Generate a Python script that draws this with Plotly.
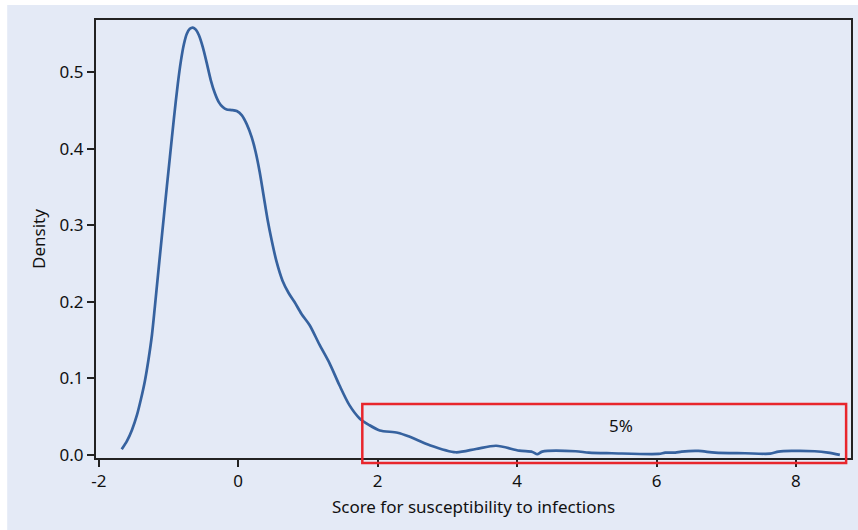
import plotly.graph_objects as go

# Density curve
score = [-1.671, -1.595, -1.524, -1.452, -1.395, -1.338, -1.288, -1.237, -1.195, -1.152,
         -1.109, -1.066, -1.023, -0.980, -0.923, -0.866, -0.823, -0.780, -0.737, -0.694,
         -0.651, -0.608, -0.565, -0.508, -0.451, -0.394, -0.336, -0.279, -0.222, -0.165,
         -0.093, -0.021, 0.050, 0.122, 0.193, 0.250, 0.308, 0.365, 0.422, 0.479,
         0.551, 0.637, 0.723, 0.808, 0.908, 1.023, 1.166, 1.309, 1.452, 1.595,
         1.738, 1.88, 2.03, 2.286, 2.453, 2.74, 3.12, 3.41, 3.70, 4.03,
         4.22, 4.29, 4.36, 4.84, 5.03, 5.36, 6.03, 6.126, 6.27, 6.36,
         6.60, 6.84, 7.27, 7.63, 7.75, 7.94, 8.27, 8.46, 8.63]
density = [0.0074, 0.0183, 0.0326, 0.0522, 0.0730, 0.0970, 0.1240, 0.1570, 0.1940, 0.2340,
           0.2730, 0.3120, 0.3510, 0.3890, 0.4390, 0.4850, 0.5140, 0.5360, 0.5500, 0.5565,
           0.5581, 0.5555, 0.5483, 0.5326, 0.5117, 0.4896, 0.4726, 0.4608, 0.4543, 0.4510,
           0.4504, 0.4491, 0.4439, 0.4321, 0.4151, 0.3956, 0.3695, 0.3381, 0.3068, 0.2807,
           0.2520, 0.2272, 0.2115, 0.1997, 0.1841, 0.1697, 0.144, 0.120, 0.091, 0.065,
           0.048, 0.039, 0.032, 0.029, 0.024, 0.013, 0.0035, 0.0078, 0.012, 0.0056,
           0.0039, 0.001, 0.0043, 0.0048, 0.003, 0.0022, 0.0013, 0.003, 0.003, 0.0043,
           0.0052, 0.003, 0.0022, 0.0017, 0.0043, 0.0052, 0.0048, 0.003, 0.0]

x_ticks = [-2, 0, 2, 4, 6, 8]
x_tick_labels = ["-2", "0", "2", "4", "6", "8"]
y_ticks = [0.0, 0.1, 0.2, 0.3, 0.4, 0.5]
y_tick_labels = ["0.0", "0.1", "0.2", "0.3", "0.4", "0.5"]

# Highlighted tail region
box_x = [1.78, 8.72]
box_y = [-0.0104, 0.0666]
box_label = "5%"
label_pos = (5.49, 0.039)

x_range = [-2.04, 8.79]
y_range = [-0.004, 0.568]

BG = "#e4eaf6"
FONT = "Noto Sans"
FS = 17

fig = go.Figure()
fig.add_trace(go.Scatter(x=score, y=density, mode="lines",
                         line=dict(color="#36629f", width=2.7, shape="spline", smoothing=0.8),
                         showlegend=False, hoverinfo="skip"))

def to_paper_y(v):
    return (v - y_range[0]) / (y_range[1] - y_range[0])

# outer light background panel (leaves thin white strip at top/left)
fig.add_shape(type="rect", xref="paper", yref="paper",
              x0=-0.1176, x1=1.01, y0=-0.17, y1=1.0342,
              fillcolor=BG, line=dict(width=0), layer="below")

fig.add_shape(type="rect", xref="x", yref="paper",
              x0=box_x[0], x1=box_x[1], y0=to_paper_y(box_y[0]), y1=to_paper_y(box_y[1]),
              line=dict(color="#e8262c", width=2.5), fillcolor="rgba(0,0,0,0)", layer="above")

fig.add_annotation(x=label_pos[0], y=label_pos[1], text=box_label, showarrow=False,
                   font=dict(family=FONT, size=FS, color="#111111"))

fig.update_layout(
    width=858, height=530,
    margin=dict(l=96, r=5, t=20, b=72),
    paper_bgcolor="white", plot_bgcolor=BG,
    font=dict(family=FONT, size=FS, color="#111111"),
    xaxis=dict(range=x_range, tickvals=x_ticks, ticktext=x_tick_labels, ticks="outside",
               ticklen=7, tickwidth=1.5,
               tickcolor="#222222", showgrid=False, zeroline=False, showline=True,
               linecolor="#222222", linewidth=2, mirror=True,
               title=dict(text="Score for susceptibility to infections", standoff=10,
                          font=dict(size=FS)),
               tickfont=dict(size=FS)),
    yaxis=dict(range=y_range, tickvals=y_ticks, ticktext=y_tick_labels, ticks="outside",
               ticklen=7, tickwidth=1.5, tickcolor="#222222", showgrid=False, zeroline=False,
               showline=True, linecolor="#222222", linewidth=2, mirror=True,
               title=dict(text="Density", standoff=10, font=dict(size=FS)),
               tickfont=dict(size=FS)),
)

fig.write_html("out.html", config={"displayModeBar": False},
               post_script="document.body.style.margin='0';document.body.style.overflow='hidden';")
